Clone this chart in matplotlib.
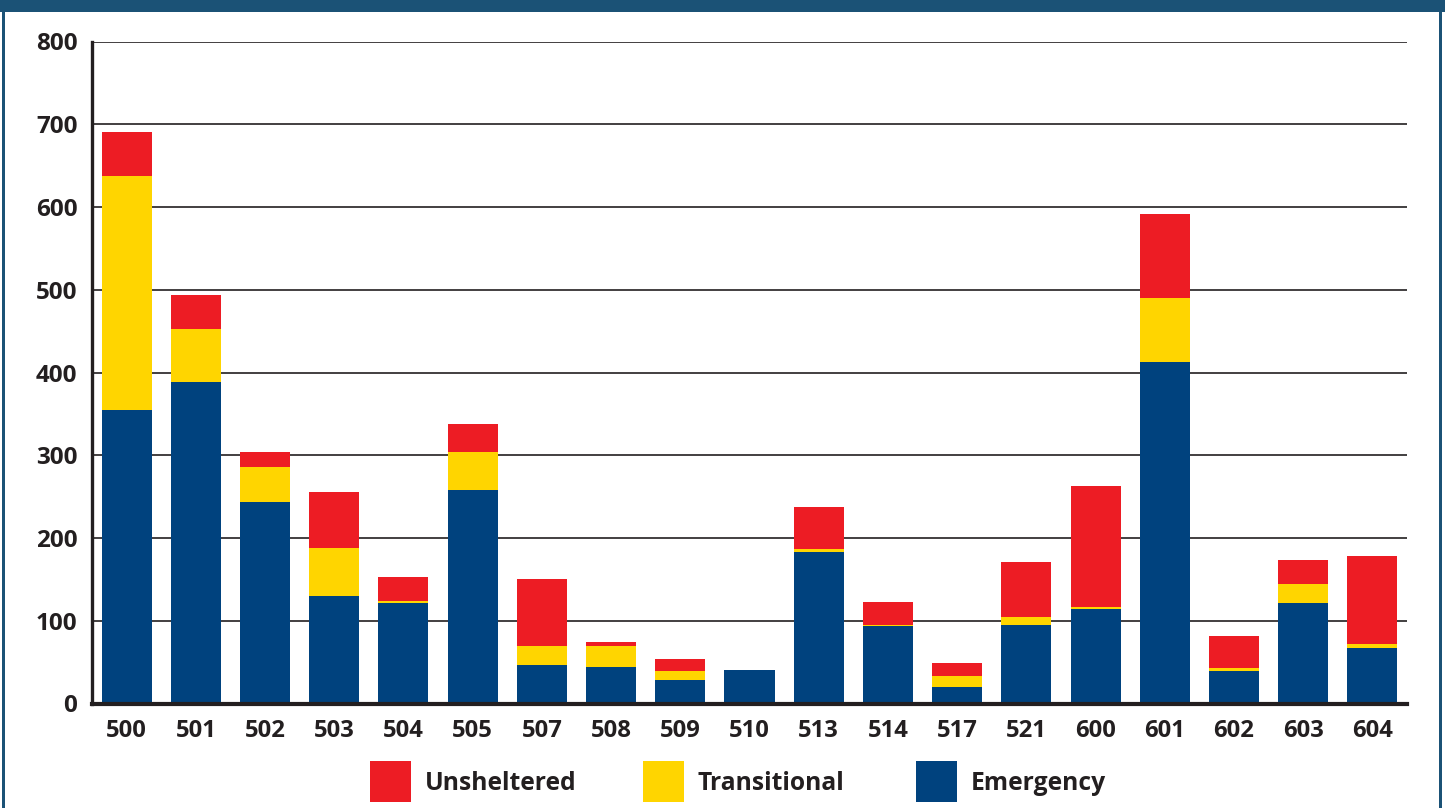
import matplotlib
matplotlib.use("Agg")
import matplotlib.pyplot as plt
from matplotlib.patches import Rectangle
import numpy as np

# Homeless counts by Continuum of Care region
regions = ["500", "501", "502", "503", "504", "505", "507", "508", "509", "510",
           "513", "514", "517", "521", "600", "601", "602", "603", "604"]
emergency = [355, 389, 244, 130, 122, 258, 47, 44, 28, 40,
             183, 94, 20, 95, 114, 413, 39, 121, 67]
transitional = [283, 64, 42, 58, 2, 46, 23, 25, 11, 1,
                4, 1, 13, 10, 3, 77, 4, 24, 5]
unsheltered = [53, 41, 18, 68, 29, 34, 81, 5, 15, 0,
               50, 28, 16, 66, 146, 102, 39, 29, 106]

series_names = ["Unsheltered", "Transitional", "Emergency"]
yticks = [0, 100, 200, 300, 400, 500, 600, 700, 800]

RED = "#ED1C24"
YELLOW = "#FFD500"
BLUE = "#00427E"
INK = "#231F20"
FRAME = "#1B5276"

W, H = 1445, 808
fig = plt.figure(figsize=(W / 100, H / 100), dpi=100)
fig.patch.set_facecolor("white")

FONT = ["Open Sans", "DejaVu Sans"]

def fx(px):
    return px / W

def fy(py):
    return 1 - py / H

ax = fig.add_axes([fx(92), fy(703.5), fx(1407) - fx(92), fy(41.5) - fy(703.5)])

x = np.arange(len(regions))
emergency_a = np.array(emergency)
transitional_a = np.array(transitional)
unsheltered_a = np.array(unsheltered)
bw = 50 / 69.2

ax.bar(x, emergency_a, width=bw, color=BLUE, zorder=3, linewidth=0)
ax.bar(x, transitional_a, width=bw, bottom=emergency_a, color=YELLOW, zorder=3, linewidth=0)
ax.bar(x, unsheltered_a, width=bw, bottom=emergency_a + transitional_a, color=RED,
       zorder=3, linewidth=0)

ax.set_xlim(-0.5, len(regions) - 0.5)
ax.set_ylim(0, 800)
ax.set_yticks(yticks)
ax.set_yticklabels([str(v) for v in yticks])
ax.set_xticks(x)
ax.set_xticklabels(regions)
ax.tick_params(axis="both", length=0, colors=INK)
ax.tick_params(axis="y", pad=10.5)
ax.tick_params(axis="x", pad=11)
for lab in ax.get_yticklabels():
    lab.set_fontfamily(FONT)
    lab.set_fontweight("bold")
    lab.set_fontsize(17.5)
for lab in ax.get_xticklabels():
    lab.set_fontfamily(FONT)
    lab.set_fontweight("bold")
    lab.set_fontsize(17.2)

ax.grid(axis="y", color=INK, linewidth=1.2, zorder=1)
ax.set_axisbelow(True)
for side in ("top", "right"):
    ax.spines[side].set_visible(False)
ax.spines["left"].set_color(INK)
ax.spines["left"].set_linewidth(2.4)
ax.spines["bottom"].set_color(INK)
ax.spines["bottom"].set_linewidth(3)
ax.spines["bottom"].set_zorder(4)

# Legend: colour squares with labels underneath the plot
legend_colors = [RED, YELLOW, BLUE]
legend_px = [370, 643, 916]
for name, col, px in zip(series_names, legend_colors, legend_px):
    fig.add_artist(Rectangle((fx(px), fy(802)), fx(41), 41 / H,
                             transform=fig.transFigure, facecolor=col, edgecolor="none"))
    fig.text(fx(px + 55), fy(783.5), name, ha="left", va="center",
             fontsize=17.7, fontweight="bold", family=FONT, color=INK)

# Frame around the figure: thick top band and thin side rules
fig.add_artist(Rectangle((0, fy(12)), 1, 12 / H, transform=fig.transFigure,
                         facecolor=FRAME, edgecolor="none"))
fig.add_artist(Rectangle((fx(1.5), 0), fx(3), 1, transform=fig.transFigure,
                         facecolor=FRAME, edgecolor="none"))
fig.add_artist(Rectangle((fx(1438.5), 0), fx(3), 1, transform=fig.transFigure,
                         facecolor=FRAME, edgecolor="none"))

fig.savefig("out.png", dpi=100, facecolor="white")
